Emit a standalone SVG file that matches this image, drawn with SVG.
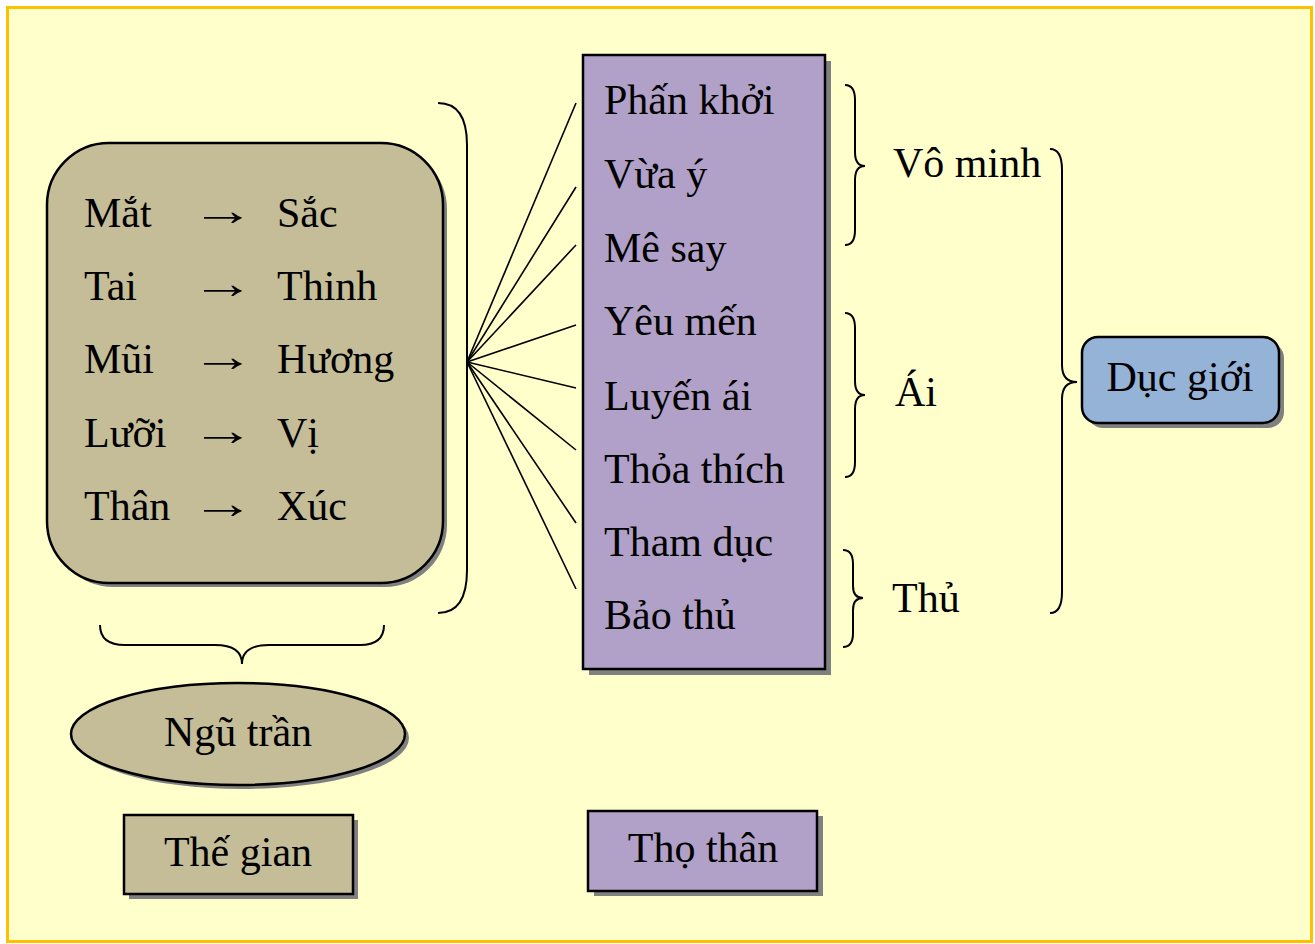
<svg xmlns="http://www.w3.org/2000/svg" width="1315" height="944" viewBox="0 0 1315 944">
<style>
text{font-family:"Liberation Serif","Times New Roman",serif;font-size:42px;fill:#000}
.ar{font-size:44px;text-anchor:middle}
.sh{fill:#808080}
.box{stroke:#000;stroke-width:2.5}
.olive{fill:#C4BD97}
.purple{fill:#B1A0C7}
.blue{fill:#95B3D7}
.br{fill:none;stroke:#000;stroke-width:2}
.ln{stroke:#000;stroke-width:1.6}
.c{text-anchor:middle}
</style>
<rect x="7.5" y="7.5" width="1304" height="934" fill="#FFFFCC" stroke="#FFC000" stroke-width="3"/>

<g id="giac-can">
<rect class="sh" x="51" y="147" width="396" height="440" rx="62"/>
<rect class="box olive" x="47" y="143" width="396" height="440" rx="62"/>
<text x="84" y="227">Mắt</text><text class="ar" transform="translate(223,225) scale(1.45,1)">→</text><text x="277" y="227">Sắc</text>
<text x="84" y="300">Tai</text><text class="ar" transform="translate(223,298) scale(1.45,1)">→</text><text x="277" y="300">Thinh</text>
<text x="84" y="373">Mũi</text><text class="ar" transform="translate(223,371) scale(1.45,1)">→</text><text x="277" y="373">Hương</text>
<text x="84" y="447">Lưỡi</text><text class="ar" transform="translate(223,445) scale(1.45,1)">→</text><text x="277" y="447">Vị</text>
<text x="84" y="520">Thân</text><text class="ar" transform="translate(223,518) scale(1.45,1)">→</text><text x="277" y="520">Xúc</text>
</g>

<g id="ngu-tran">
<ellipse class="sh" cx="242" cy="738" rx="167" ry="51"/>
<ellipse class="box olive" cx="238" cy="734" rx="167" ry="51"/>
<text class="c" x="238" y="746">Ngũ trần</text>
</g>

<g id="the-gian">
<rect class="sh" x="129" y="820" width="229" height="79"/>
<rect class="box olive" x="124" y="815" width="229" height="79"/>
<text class="c" x="238" y="866">Thế gian</text>
</g>

<g id="tam-list">
<rect class="sh" x="589" y="61" width="242" height="614"/>
<rect class="box purple" x="583" y="55" width="242" height="614"/>
<text x="604" y="114">Phấn khởi</text>
<text x="604" y="188">Vừa ý</text>
<text x="604" y="262">Mê say</text>
<text x="604" y="335">Yêu mến</text>
<text x="604" y="410">Luyến ái</text>
<text x="604" y="483">Thỏa thích</text>
<text x="604" y="556">Tham dục</text>
<text x="604" y="629">Bảo thủ</text>
</g>

<g id="tho-than">
<rect class="sh" x="594" y="816" width="229" height="80"/>
<rect class="box purple" x="588" y="811" width="229" height="80"/>
<text class="c" x="703" y="862">Thọ thân</text>
</g>

<g id="vo-minh"><text x="893" y="177">Vô minh</text></g>
<g id="ai"><text x="895" y="406">Ái</text></g>
<g id="thu"><text x="892" y="612">Thủ</text></g>

<g id="duc-gioi">
<rect class="sh" x="1087" y="342" width="197" height="86" rx="16"/>
<rect class="box blue" x="1082" y="337" width="197" height="86" rx="16"/>
<text class="c" x="1180" y="391">Dục giới</text>
</g>

<g id="connectors">
<path class="br" d="M438 103 Q467 103 467 145 L467 570 Q467 613 438 613"/>
<path class="br" d="M100 625 Q100 645 125 645 L215 645 Q242 645 242 664 Q242 645 269 645 L360 645 Q384 645 384 625"/>
<line class="ln" x1="467" y1="362" x2="576" y2="103"/>
<line class="ln" x1="467" y1="362" x2="576" y2="187"/>
<line class="ln" x1="467" y1="362" x2="576" y2="245"/>
<line class="ln" x1="467" y1="362" x2="576" y2="325"/>
<line class="ln" x1="467" y1="362" x2="576" y2="388"/>
<line class="ln" x1="467" y1="362" x2="576" y2="450"/>
<line class="ln" x1="467" y1="362" x2="576" y2="523"/>
<line class="ln" x1="467" y1="362" x2="576" y2="589"/>
<path class="br" d="M845 85 Q855 85 855 100 L855 152 Q855 166 865 166 Q855 166 855 180 L855 230 Q855 245 845 245"/>
<path class="br" d="M845 313 Q855 313 855 328 L855 381 Q855 395 865 395 Q855 395 855 409 L855 462 Q855 477 845 477"/>
<path class="br" d="M843 550 Q853 550 853 564 L853 586 Q853 598 863 598 Q853 598 853 610 L853 633 Q853 647 843 647"/>
<path class="br" d="M1050 149 Q1062 149 1062 170 L1062 365 Q1062 382 1077 382 Q1062 382 1062 399 L1062 592 Q1062 613 1050 613"/>
</g>
</svg>
